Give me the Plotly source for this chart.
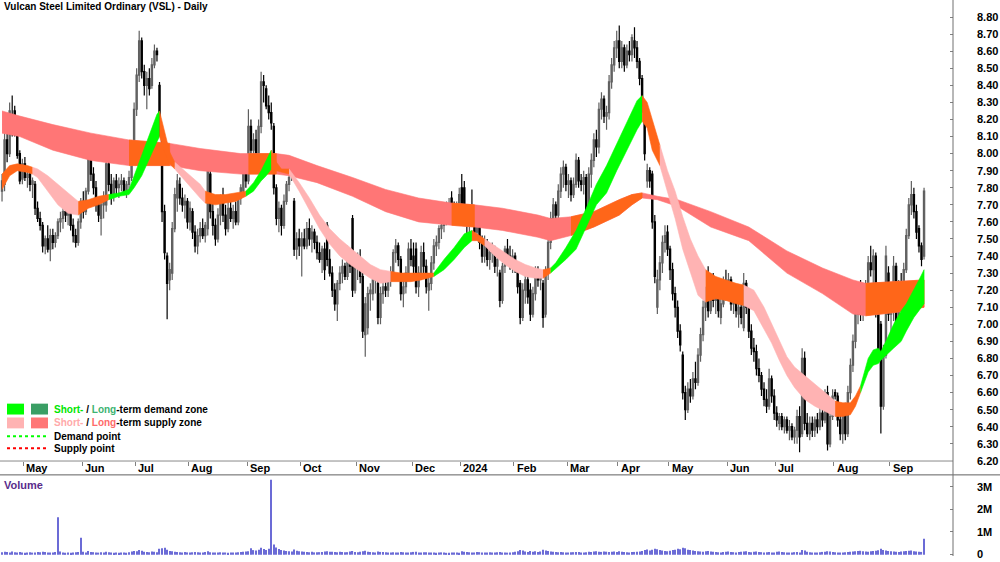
import plotly.graph_objects as go

# ---------------- data ----------------
title_text = "Vulcan Steel Limited Ordinary (VSL) - Daily"
month_labels = ["May", "Jun", "Jul", "Aug", "Sep", "Oct", "Nov", "Dec", "2024",
                "Feb", "Mar", "Apr", "May", "Jun", "Jul", "Aug", "Sep"]
month_start = [9, 32, 53, 74, 97, 118, 140, 162, 181, 202, 223, 243, 263, 286, 305, 328, 350]
price_tick_labels = ["6.20", "6.30", "6.40", "6.50", "6.60", "6.70", "6.80", "6.90", "7.00",
                     "7.10", "7.20", "7.30", "7.40", "7.50", "7.60", "7.70", "7.80", "7.90",
                     "8.00", "8.10", "8.20", "8.30", "8.40", "8.50", "8.60", "8.70", "8.80"]
volume_tick_vals = [0, 1000000, 2000000, 3000000]
volume_tick_labels = ["0", "1M", "2M", "3M"]

opens = [7.78,7.82,8.08,8.00,8.22,8.25,8.10,8.00,7.85,7.94,
         7.86,7.88,7.82,7.82,7.68,7.62,7.58,7.46,7.50,7.44,
         7.52,7.48,7.52,7.60,7.62,7.66,7.64,7.68,7.58,7.52,
         7.48,7.60,7.72,7.66,7.78,8.00,7.88,7.80,7.70,7.62,
         7.70,7.70,7.94,7.82,7.76,7.84,7.80,7.82,7.84,7.78,
         7.82,7.86,8.06,8.26,8.46,8.66,8.48,8.40,8.44,8.40,
         8.52,8.60,8.40,8.10,7.66,7.40,7.26,7.30,7.56,7.74,
         7.82,7.74,7.70,7.72,7.60,7.66,7.54,7.46,7.52,7.56,
         7.52,7.56,7.88,7.66,7.58,7.50,7.64,7.72,7.64,7.56,
         7.68,7.62,7.66,7.60,7.74,7.78,7.88,7.84,8.16,8.02,
         8.08,8.00,8.16,8.42,8.38,8.28,8.24,8.16,7.80,7.62,
         7.68,7.58,7.72,7.82,7.88,7.72,7.44,7.50,7.46,7.50,
         7.46,7.56,7.50,7.54,7.48,7.42,7.38,7.44,7.58,7.38,
         7.30,7.20,7.12,7.24,7.30,7.34,7.28,7.40,7.62,7.20,
         7.34,7.38,7.28,6.94,6.98,7.18,7.18,7.26,7.24,7.04,
         7.18,7.22,7.20,7.28,7.30,7.42,7.46,7.38,7.18,7.22,
         7.30,7.44,7.40,7.44,7.22,7.30,7.42,7.34,7.20,7.24,
         7.36,7.46,7.48,7.56,7.58,7.64,7.68,7.74,7.66,7.64,
         7.66,7.80,7.80,7.64,7.60,7.66,7.62,7.54,7.60,7.48,
         7.40,7.48,7.38,7.42,7.44,7.34,7.30,7.14,7.34,7.44,
         7.40,7.36,7.40,7.32,7.24,7.04,7.20,7.26,7.20,7.06,
         7.18,7.28,7.26,7.24,7.06,7.30,7.48,7.62,7.70,7.64,
         7.78,7.88,7.92,7.82,7.84,7.76,7.82,7.96,7.84,7.82,
         7.86,7.66,7.88,7.96,8.08,8.04,8.26,8.32,8.22,8.24,
         8.42,8.52,8.62,8.66,8.54,8.62,8.52,8.60,8.58,8.66,
         8.62,8.54,8.44,8.28,7.84,7.90,7.88,7.60,7.10,7.26,
         7.36,7.48,7.54,7.44,7.32,7.18,7.10,6.96,6.82,6.60,
         6.50,6.62,6.58,6.68,6.66,6.82,6.94,7.10,7.18,7.08,
         7.26,7.14,7.20,7.04,7.12,7.24,7.18,7.26,7.12,7.18,
         7.06,7.10,6.98,7.24,7.10,6.96,6.86,6.84,6.74,6.70,
         6.62,6.56,6.52,6.68,6.58,6.48,6.42,6.46,6.40,6.44,
         6.38,6.40,6.34,6.38,6.46,6.36,6.80,6.42,6.36,6.42,
         6.38,6.44,6.40,6.48,6.44,6.60,6.30,6.46,6.60,6.58,
         6.44,6.36,6.50,6.36,6.60,6.76,6.90,7.06,7.22,7.06,
         7.16,7.22,7.36,7.32,7.40,7.06,7.00,6.52,6.82,7.30,
         7.06,7.14,7.34,7.00,7.22,7.14,7.32,7.52,7.70,7.76,
         7.66,7.56,7.46,7.40]

highs = [7.88,8.12,8.15,8.30,8.34,8.28,8.12,8.02,7.97,7.98,
         7.92,7.90,7.86,7.84,7.72,7.66,7.60,7.52,7.58,7.56,
         7.56,7.54,7.62,7.66,7.68,7.72,7.70,7.70,7.62,7.56,
         7.62,7.74,7.78,7.80,8.12,8.02,7.92,7.84,7.74,7.72,
         7.78,7.98,7.99,7.88,7.86,7.88,7.86,7.88,7.86,7.84,
         7.90,8.08,8.30,8.50,8.72,8.68,8.52,8.48,8.50,8.56,
         8.64,8.62,8.42,8.12,7.70,7.42,7.36,7.60,7.80,7.88,
         7.86,7.80,7.76,7.74,7.72,7.68,7.58,7.56,7.60,7.62,
         7.60,7.96,7.92,7.74,7.62,7.68,7.76,7.80,7.70,7.72,
         7.74,7.70,7.72,7.76,7.82,7.90,7.92,8.26,8.20,8.12,
         8.14,8.20,8.48,8.46,8.40,8.34,8.30,8.18,7.82,7.72,
         7.70,7.76,7.84,7.88,7.92,7.74,7.54,7.56,7.54,7.56,
         7.60,7.62,7.58,7.56,7.52,7.48,7.46,7.48,7.60,7.44,
         7.34,7.24,7.26,7.34,7.38,7.36,7.46,7.44,7.64,7.38,
         7.42,7.44,7.30,7.16,7.22,7.24,7.30,7.32,7.26,7.22,
         7.26,7.28,7.30,7.34,7.44,7.50,7.48,7.40,7.26,7.34,
         7.48,7.50,7.48,7.48,7.34,7.46,7.48,7.38,7.28,7.40,
         7.50,7.52,7.58,7.62,7.66,7.72,7.74,7.78,7.72,7.72,
         7.80,7.88,7.84,7.70,7.70,7.79,7.66,7.64,7.62,7.52,
         7.52,7.50,7.46,7.48,7.46,7.42,7.32,7.36,7.46,7.50,
         7.46,7.44,7.42,7.36,7.26,7.24,7.30,7.28,7.24,7.22,
         7.34,7.34,7.30,7.26,7.34,7.52,7.66,7.74,7.72,7.82,
         7.92,7.96,7.94,7.88,7.86,7.86,8.00,7.98,7.88,7.90,
         7.88,7.92,8.00,8.12,8.14,8.30,8.36,8.34,8.28,8.46,
         8.56,8.66,8.72,8.75,8.66,8.64,8.64,8.66,8.70,8.74,
         8.66,8.56,8.46,8.30,7.94,7.92,7.90,7.64,7.32,7.40,
         7.52,7.58,7.58,7.46,7.36,7.22,7.14,7.00,6.84,6.64,
         6.66,6.68,6.72,6.78,6.86,6.98,7.14,7.22,7.34,7.30,
         7.30,7.24,7.22,7.16,7.28,7.32,7.30,7.28,7.22,7.20,
         7.14,7.16,7.30,7.26,7.12,7.00,6.92,6.88,6.80,6.72,
         6.66,6.62,6.74,6.70,6.62,6.52,6.48,6.48,6.46,6.46,
         6.44,6.42,6.40,6.50,6.52,6.86,6.84,6.48,6.46,6.46,
         6.46,6.48,6.52,6.56,6.62,6.64,6.50,6.62,6.62,6.60,
         6.50,6.52,6.54,6.64,6.80,6.94,7.10,7.24,7.26,7.20,
         7.26,7.40,7.46,7.44,7.42,7.10,7.02,6.88,7.46,7.34,
         7.20,7.40,7.36,7.26,7.30,7.36,7.56,7.74,7.84,7.80,
         7.70,7.58,7.48,7.80]

lows = [7.72,7.78,7.95,7.98,8.10,8.10,7.97,7.82,7.82,7.84,
        7.80,7.78,7.74,7.64,7.60,7.55,7.42,7.41,7.42,7.37,
        7.44,7.45,7.50,7.54,7.56,7.60,7.58,7.55,7.48,7.45,
        7.46,7.56,7.62,7.64,7.76,7.84,7.76,7.66,7.60,7.52,
        7.62,7.66,7.78,7.70,7.72,7.76,7.74,7.78,7.76,7.74,
        7.78,7.84,8.04,8.22,8.42,8.44,8.34,8.26,8.34,8.38,
        8.50,8.54,8.10,7.60,7.38,7.03,7.20,7.26,7.54,7.66,
        7.70,7.66,7.62,7.56,7.55,7.50,7.42,7.41,7.48,7.50,
        7.48,7.52,7.62,7.52,7.46,7.48,7.58,7.60,7.52,7.54,
        7.60,7.56,7.58,7.58,7.70,7.76,7.80,7.82,7.96,7.94,
        7.96,7.98,8.12,8.30,8.26,8.20,8.14,7.76,7.58,7.54,
        7.52,7.56,7.70,7.78,7.84,7.40,7.38,7.40,7.28,7.44,
        7.44,7.46,7.42,7.44,7.38,7.36,7.30,7.26,7.34,7.28,
        7.16,7.08,7.02,7.20,7.24,7.26,7.26,7.30,7.16,7.18,
        7.26,7.24,6.92,6.81,6.94,7.08,7.14,7.18,7.00,7.00,
        7.12,7.16,7.16,7.22,7.28,7.36,7.34,7.14,7.10,7.18,
        7.26,7.34,7.30,7.18,7.16,7.26,7.30,7.18,7.08,7.20,
        7.32,7.40,7.44,7.50,7.54,7.58,7.60,7.64,7.60,7.60,
        7.62,7.62,7.62,7.52,7.54,7.60,7.50,7.50,7.44,7.36,
        7.36,7.34,7.32,7.36,7.30,7.28,7.10,7.12,7.30,7.36,
        7.32,7.30,7.30,7.18,7.00,7.02,7.12,7.12,7.02,7.04,
        7.14,7.22,7.20,6.98,7.04,7.26,7.44,7.56,7.58,7.62,
        7.74,7.80,7.78,7.74,7.72,7.74,7.80,7.80,7.78,7.76,
        7.62,7.64,7.80,7.92,7.98,8.00,8.20,8.18,8.14,8.20,
        8.38,8.48,8.56,8.50,8.50,8.48,8.50,8.54,8.54,8.56,
        8.50,8.40,8.24,7.96,7.80,7.80,7.56,7.24,7.06,7.20,
        7.30,7.42,7.40,7.26,7.14,7.04,6.92,6.84,6.56,6.44,
        6.48,6.54,6.56,6.62,6.64,6.78,6.90,7.02,7.04,7.06,
        7.10,7.06,7.04,7.00,7.10,7.14,7.14,7.08,7.06,7.04,
        6.98,7.00,6.96,7.06,6.92,6.82,6.78,6.70,6.66,6.58,
        6.52,6.48,6.50,6.54,6.44,6.40,6.38,6.38,6.36,6.36,
        6.32,6.32,6.30,6.30,6.25,6.34,6.38,6.34,6.32,6.34,
        6.34,6.36,6.38,6.40,6.42,6.26,6.28,6.44,6.56,6.40,
        6.32,6.30,6.32,6.34,6.56,6.72,6.86,7.00,7.02,7.02,
        7.10,7.18,7.28,7.22,7.04,6.80,6.36,6.50,6.80,7.02,
        6.94,7.02,6.96,6.94,7.10,7.12,7.30,7.50,7.64,7.62,
        7.50,7.42,7.34,7.38]

closes = [7.84,8.08,8.00,8.25,8.15,8.13,7.99,7.84,7.94,7.86,
          7.88,7.82,7.84,7.68,7.62,7.58,7.46,7.50,7.44,7.52,
          7.48,7.52,7.60,7.62,7.66,7.64,7.68,7.58,7.52,7.48,
          7.60,7.72,7.66,7.78,8.02,7.88,7.80,7.70,7.64,7.70,
          7.74,7.94,7.82,7.76,7.84,7.80,7.82,7.84,7.78,7.82,
          7.86,8.04,8.26,8.46,8.66,8.48,8.40,8.44,8.38,8.52,
          8.60,8.58,8.14,7.66,7.42,7.24,7.32,7.56,7.76,7.84,
          7.74,7.70,7.72,7.60,7.68,7.54,7.46,7.52,7.56,7.52,
          7.58,7.90,7.66,7.58,7.50,7.64,7.72,7.64,7.56,7.68,
          7.62,7.66,7.60,7.74,7.80,7.88,7.84,8.16,8.02,8.08,
          8.00,8.16,8.42,8.40,8.28,8.24,8.18,7.80,7.62,7.68,
          7.58,7.72,7.82,7.86,7.90,7.44,7.50,7.46,7.50,7.46,
          7.56,7.50,7.54,7.48,7.42,7.38,7.44,7.32,7.38,7.30,
          7.20,7.12,7.24,7.30,7.34,7.28,7.42,7.34,7.20,7.34,
          7.38,7.28,6.96,7.12,7.18,7.20,7.26,7.28,7.04,7.18,
          7.22,7.20,7.28,7.30,7.42,7.46,7.38,7.18,7.22,7.30,
          7.44,7.38,7.34,7.22,7.30,7.42,7.34,7.22,7.24,7.36,
          7.46,7.48,7.56,7.58,7.64,7.68,7.70,7.66,7.64,7.70,
          7.76,7.66,7.64,7.60,7.66,7.62,7.54,7.60,7.48,7.40,
          7.48,7.38,7.42,7.44,7.34,7.38,7.14,7.34,7.44,7.40,
          7.36,7.40,7.32,7.22,7.04,7.20,7.26,7.16,7.06,7.18,
          7.30,7.26,7.28,7.04,7.30,7.48,7.62,7.70,7.64,7.78,
          7.88,7.92,7.82,7.84,7.76,7.82,7.96,7.84,7.82,7.86,
          7.66,7.88,7.96,8.08,8.04,8.26,8.32,8.22,8.24,8.42,
          8.52,8.62,8.66,8.54,8.62,8.52,8.60,8.58,8.68,8.62,
          8.54,8.44,8.28,8.00,7.90,7.84,7.60,7.28,7.26,7.36,
          7.48,7.52,7.44,7.32,7.18,7.10,6.96,6.88,6.60,6.50,
          6.62,6.58,6.68,6.66,6.82,6.94,7.10,7.18,7.08,7.26,
          7.14,7.20,7.08,7.12,7.24,7.18,7.26,7.12,7.18,7.08,
          7.10,7.04,7.24,7.10,6.96,6.86,6.84,6.74,6.70,6.62,
          6.56,6.52,6.68,6.58,6.48,6.44,6.46,6.40,6.44,6.38,
          6.40,6.34,6.38,6.46,6.34,6.80,6.42,6.36,6.42,6.38,
          6.44,6.40,6.48,6.44,6.58,6.30,6.46,6.58,6.58,6.44,
          6.36,6.48,6.36,6.60,6.76,6.90,7.06,7.20,7.06,7.16,
          7.22,7.36,7.32,7.40,7.08,6.84,6.52,6.82,7.40,7.06,
          7.16,7.34,7.00,7.22,7.14,7.32,7.52,7.70,7.76,7.66,
          7.54,7.46,7.38,7.78]

volume_k = [110,130,120,95,140,105,90,115,100,85,
            95,110,90,100,120,105,130,115,95,90,
            100,120,1650,140,90,85,100,80,95,110,
            120,750,130,100,160,120,110,95,90,105,
            100,130,110,90,85,95,80,100,90,85,
            110,140,160,150,200,170,130,120,110,140,
            130,110,260,280,300,220,160,150,130,120,
            110,100,115,100,95,105,120,110,100,95,
            120,150,110,100,90,95,105,100,95,85,
            90,100,95,110,120,130,140,150,280,200,
            180,220,300,250,200,260,3300,450,320,250,
            200,180,160,150,140,230,170,150,140,130,
            120,110,130,100,105,110,120,140,150,130,
            125,120,110,130,120,105,110,140,160,120,
            110,130,150,170,130,120,110,100,140,120,
            115,105,100,95,110,100,90,120,110,100,
            95,110,120,130,100,90,105,110,95,100,
            90,85,95,100,90,80,85,95,100,90,
            85,150,130,120,110,100,95,120,110,100,
            95,90,105,100,95,110,120,100,95,90,
            100,110,130,150,200,180,140,120,160,130,
            150,120,140,220,180,160,140,130,120,110,
            120,110,100,95,105,110,120,115,100,95,
            110,130,120,140,150,130,120,140,130,120,
            130,140,120,150,130,120,110,100,115,120,
            130,140,160,200,230,180,220,260,240,200,
            180,160,150,170,200,220,260,240,300,280,
            220,200,180,160,150,140,130,150,160,140,
            130,120,110,100,120,130,140,120,110,100,
            115,130,140,150,120,110,130,140,120,110,
            100,110,120,100,90,130,140,120,110,100,
            95,90,110,120,100,200,180,130,110,100,
            95,100,110,120,130,150,140,120,110,100,
            95,90,105,120,130,140,150,160,170,150,
            140,130,150,160,170,190,260,200,180,160,
            150,140,130,120,140,150,160,170,180,150,
            140,130,120,700]

# long-term band (read at sample bars)
lt_x = [0,7,20,35,50,66,78,94,97,105,108,113,124,138,151,164,177,186,197,211,
        216,224,233,243,248,252,258,266,279,294,309,323,335,340,352,363]
lt_hi = [8.25,8.22,8.17,8.12,8.08,8.06,8.03,8.00,8.00,8.00,8.00,7.99,7.93,7.86,7.79,7.74,7.71,7.70,7.68,7.64,
         7.62,7.63,7.66,7.73,7.76,7.77,7.75,7.73,7.66,7.57,7.43,7.33,7.26,7.24,7.25,7.26]
lt_lo = [8.12,8.10,8.02,7.96,7.93,7.93,7.90,7.88,7.88,7.88,7.88,7.87,7.83,7.75,7.66,7.60,7.58,7.57,7.55,7.51,
         7.49,7.52,7.57,7.64,7.70,7.74,7.73,7.69,7.57,7.49,7.30,7.18,7.06,7.05,7.07,7.10]
lt_orange_start = [50, 97, 177, 224, 340]
lt_orange_end = [66, 108, 186, 252, 363]

# short-term band (read at sample bars)
st_x = [0,3,6,10,12,14,18,22,26,30,34,38,42,46,50,52,55,58,61,62,64,66,68,71,75,78,80,84,88,92,
        96,99,102,104,106,108,110,113,117,121,125,129,133,137,141,145,149,153,157,161,165,170,174,178,182,
        185,187,190,194,198,202,206,210,213,216,218,222,226,230,234,238,242,246,250,252,254,256,259,262,265,
        268,271,274,277,281,285,289,292,296,300,303,306,309,312,316,320,324,328,331,334,336,338,341,343,345,
        346,348,351,354,356,359,361,363]
st_hi = [7.88,7.93,7.94,7.93,7.92,7.91,7.87,7.82,7.77,7.72,7.73,7.75,7.76,7.77,7.79,7.87,7.99,8.11,8.23,8.25,
         8.13,8.01,7.95,7.91,7.86,7.82,7.78,7.76,7.76,7.77,
         7.78,7.83,7.90,7.96,8.02,7.95,7.91,7.91,7.83,7.74,7.64,7.56,7.50,7.45,7.40,7.35,7.32,7.31,7.30,7.30,
         7.30,7.30,7.38,7.45,7.53,
         7.55,7.53,7.50,7.46,7.42,7.38,7.35,7.33,7.32,7.33,7.36,7.45,7.55,7.68,7.82,7.93,8.06,8.18,8.31,8.34,
         8.30,8.20,8.05,7.90,7.78,
         7.63,7.50,7.40,7.32,7.28,7.26,7.24,7.23,7.20,7.10,7.00,6.90,6.81,6.75,6.70,6.65,6.60,6.55,6.54,6.54,
         6.58,6.64,6.80,6.85,6.86,
         6.84,6.90,7.00,7.08,7.12,7.20,7.26,7.32]
st_lo = [7.79,7.87,7.90,7.89,7.88,7.86,7.78,7.70,7.65,7.64,7.68,7.70,7.73,7.75,7.76,7.80,7.87,7.97,8.07,8.10,
         8.01,7.94,7.91,7.86,7.79,7.74,7.71,7.70,7.71,7.72,
         7.75,7.78,7.84,7.87,7.91,7.90,7.89,7.88,7.78,7.67,7.56,7.47,7.40,7.35,7.31,7.27,7.24,7.25,7.25,7.25,
         7.26,7.28,7.32,7.38,7.45,
         7.49,7.49,7.46,7.40,7.35,7.31,7.28,7.27,7.27,7.30,7.33,7.38,7.44,7.57,7.70,7.77,7.90,8.02,8.14,8.19,
         8.15,8.02,7.93,7.78,7.62,
         7.44,7.30,7.17,7.13,7.15,7.14,7.12,7.11,7.08,6.97,6.89,6.79,6.70,6.63,6.56,6.52,6.49,6.46,6.46,6.47,
         6.52,6.60,6.72,6.76,6.77,
         6.79,6.82,6.86,6.90,6.96,7.04,7.08,7.12]
st_seg_start = [0, 12, 30, 42, 62, 68, 80, 96, 106, 113, 153, 170, 185, 190, 213, 216, 252, 259, 277, 292, 328, 338]
st_seg_end = [12, 30, 42, 62, 68, 80, 96, 106, 113, 153, 170, 185, 190, 213, 216, 252, 259, 277, 292, 328, 338, 363]
st_seg_zone = ["O", "P", "O", "G", "O", "P", "O", "G", "O", "P", "O", "G", "O", "P", "O", "G", "O", "P", "O", "P", "O", "G"]

# ---------------- styling ----------------
W, H, RM = 1000, 562, 47
PW = W - RM
C_GREEN = "#00ff00"
C_SEAGREEN = "#3a9e64"
C_PINK = "#ffb3b3"
C_SALMON = "#ff7676"
C_ORANGE = "#ff6619"
zone_color = {"O": C_ORANGE, "P": C_PINK, "G": C_GREEN}
FONT = "Liberation Sans, Arial, sans-serif"


def px_x(p):
    return p / PW


def px_y(p):
    return 1 - p / H


fig = go.Figure()


def add_band(xs, hi, lo, a, b, color):
    idx = [k for k, v in enumerate(xs) if a <= v <= b]
    X = [xs[k] for k in idx]
    Yh = [hi[k] for k in idx]
    Yl = [lo[k] for k in idx]
    fig.add_trace(go.Scatter(
        x=X + X[::-1], y=Yh + Yl[::-1], fill="toself", fillcolor=color,
        mode="lines", line=dict(width=0.6, color=color),
        hoverinfo="skip", showlegend=False, xaxis="x", yaxis="y"))


# long-term band
add_band(lt_x, lt_hi, lt_lo, lt_x[0], lt_x[-1], C_SALMON)
for a, b in zip(lt_orange_start, lt_orange_end):
    add_band(lt_x, lt_hi, lt_lo, a, b, C_ORANGE)

# short-term band
for a, b, z in zip(st_seg_start, st_seg_end, st_seg_zone):
    add_band(st_x, st_hi, st_lo, a, b, zone_color[z])

bars = list(range(len(closes)))

fig.add_trace(go.Candlestick(
    x=bars, open=opens, high=highs, low=lows, close=closes,
    increasing=dict(line=dict(color="#5f5f5f", width=1.2), fillcolor="#b4b4b4"),
    decreasing=dict(line=dict(color="#000000", width=1.2), fillcolor="#000000"),
    whiskerwidth=0, hoverinfo="skip", showlegend=False, xaxis="x", yaxis="y"))

fig.add_trace(go.Bar(
    x=bars, y=[v * 1000 for v in volume_k], width=0.45,
    marker=dict(color="#6b6bd6", line=dict(width=0)),
    hoverinfo="skip", showlegend=False, xaxis="x2", yaxis="y2"))

x_range = [-0.8, -0.8 + PW / 2.54]
tick_font = dict(family=FONT, size=11, color="#000000", weight="bold")

fig.update_layout(
    width=W, height=H, margin=dict(l=0, r=RM, t=0, b=0),
    plot_bgcolor="white", paper_bgcolor="white", showlegend=False,
    xaxis=dict(domain=[0, 1], range=x_range, anchor="y", showgrid=False, zeroline=False,
               rangeslider=dict(visible=False),
               tickmode="array", tickvals=[m - 0.5 for m in month_start],
               ticktext=["" for _ in month_start], ticks="outside", ticklen=4,
               tickcolor="#808080", showline=False, fixedrange=True),
    yaxis=dict(domain=[(H - 466) / H, 1], range=[6.199, 8.90], side="right", anchor="x",
               tickmode="array", tickvals=[float(t) for t in price_tick_labels],
               ticktext=price_tick_labels, ticks="inside", ticklen=3, tickcolor="#808080",
               tickfont=tick_font, showgrid=False, zeroline=False, showline=False,
               ticklabelstandoff=23),
    xaxis2=dict(domain=[0, 1], range=x_range, anchor="y2", visible=False),
    yaxis2=dict(domain=[0, (H - 480) / H], range=[-60000, 3520000], side="right", anchor="x2",
                tickmode="array", tickvals=volume_tick_vals, ticktext=volume_tick_labels,
                ticks="inside", ticklen=3, tickcolor="#808080", tickfont=tick_font,
                showgrid=False, zeroline=False, showline=False, ticklabelstandoff=23),
)

shapes = [
    dict(type="line", xref="paper", yref="paper", x0=0, x1=1, y0=px_y(466), y1=px_y(466),
         line=dict(color="#8a8a8a", width=1)),
    dict(type="line", xref="paper", yref="paper", x0=0, x1=W / PW, y0=px_y(480), y1=px_y(480),
         line=dict(color="#606060", width=1)),
    dict(type="line", xref="paper", yref="paper", x0=1, x1=1, y0=0, y1=1,
         line=dict(color="#707070", width=1)),
    # legend swatches
    dict(type="rect", xref="paper", yref="paper", x0=px_x(7), x1=px_x(24), y0=px_y(419), y1=px_y(408),
         fillcolor=C_GREEN, line=dict(width=0)),
    dict(type="rect", xref="paper", yref="paper", x0=px_x(31), x1=px_x(48), y0=px_y(419), y1=px_y(408),
         fillcolor=C_SEAGREEN, line=dict(width=0)),
    dict(type="rect", xref="paper", yref="paper", x0=px_x(7), x1=px_x(24), y0=px_y(433), y1=px_y(422),
         fillcolor=C_PINK, line=dict(width=0)),
    dict(type="rect", xref="paper", yref="paper", x0=px_x(31), x1=px_x(48), y0=px_y(433), y1=px_y(422),
         fillcolor=C_SALMON, line=dict(width=0)),
    dict(type="line", xref="paper", yref="paper", x0=px_x(7), x1=px_x(48), y0=px_y(441), y1=px_y(441),
         line=dict(color="#00ff00", width=2, dash="dot")),
    dict(type="line", xref="paper", yref="paper", x0=px_x(7), x1=px_x(48), y0=px_y(453), y1=px_y(453),
         line=dict(color="#ff0000", width=2, dash="dot")),
]
fig.update_layout(shapes=shapes)

head_font = dict(family=FONT, size=10, color="#000000", weight="bold")
month_font = dict(family=FONT, size=11, color="#000000", weight="bold")
ann = []
ann.append(dict(text=title_text, xref="paper", yref="paper", x=px_x(2), y=px_y(7),
                xanchor="left", yanchor="middle", showarrow=False, font=head_font))
ann.append(dict(text="Volume", xref="paper", yref="paper", x=px_x(2), y=px_y(490),
                xanchor="left", yanchor="middle", showarrow=False,
                font=dict(family=FONT, size=11, color="#5a2d8c", weight="bold")))
for lab, m in zip(month_labels, month_start):
    ann.append(dict(text=lab, xref="x", yref="paper", x=m - 0.2, y=px_y(473),
                    xanchor="left", yanchor="middle", showarrow=False, font=month_font))
for txt, yy in [("<span style='color:#00e600'>Short-</span> / <span style='color:#3cb371'>Long</span>-term demand zone", 414),
                ("<span style='color:#ffaaaa'>Short-</span> / <span style='color:#ff6a6a'>Long</span>-term supply zone", 427),
                ("Demand point", 441),
                ("Supply point", 453)]:
    ann.append(dict(text=txt, xref="paper", yref="paper", x=px_x(53), y=px_y(yy),
                    xanchor="left", yanchor="middle", showarrow=False, borderpad=0,
                    font=head_font))
fig.update_layout(annotations=ann)

fig.write_html("out.html")
